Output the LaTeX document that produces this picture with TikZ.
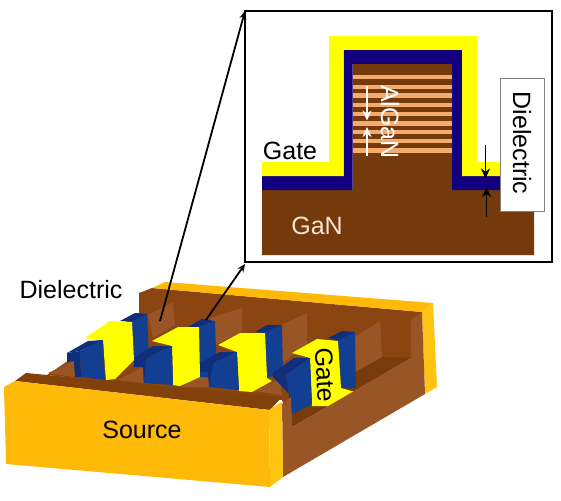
\documentclass[tikz,border=0pt]{standalone}
\usepackage{fontspec}
\setmainfont{Liberation Sans}
\definecolor{gan}{HTML}{753A0B}
\definecolor{navy2}{HTML}{13007F}
\definecolor{stripe}{HTML}{F4AC6C}
\definecolor{orange1}{HTML}{FFB908}
\definecolor{orange2}{HTML}{FFC312}
\definecolor{wall}{HTML}{8A4510}
\definecolor{floor2}{HTML}{783C0C}
\definecolor{fin}{HTML}{9A5526}
\definecolor{blue1}{HTML}{133F92}
\definecolor{blue2}{HTML}{0F2F7C}
\definecolor{cream}{HTML}{F6E6D0}
\definecolor{pureyellow}{HTML}{FFFF00}
\usetikzlibrary{arrows.meta}
\tikzset{
 lbl/.style={inner sep=0pt,font=\fontsize{25}{25}\selectfont},
 stripebar/.style={fill=stripe},
 tip/.style={-{Stealth[length=10pt,width=9pt]}},
 yel/.style={fill=pureyellow},
 bf/.style={fill=blue1},
 bt/.style={fill=blue2},
 fn/.style={fill=fin},
 ptr/.style={line width=1.8pt,-{Stealth[length=8pt,width=7pt]}}
}
\begin{document}
\begin{tikzpicture}[x=1pt,y=-1pt]
\useasboundingbox (0,0) rectangle (561,500);
% inset
\draw[line width=1.5pt,fill=white] (245,11) rectangle (552,262);
\fill[gan] (262,190) -- (352.5,190) -- (352.5,64) -- (452,64) -- (452,190) -- (534,190) -- (534,255) -- (262,255) -- cycle;
\foreach \y in {77.3,87.3,95.7,104.7,113.7,123.3,132,140.7,150.3}
  \fill[stripebar] (352.5,\y-2.2) rectangle (452,\y+2.2);
\fill[navy2] (262,176) -- (343.5,176) -- (343.5,50) -- (462,50) -- (462,176) -- (501,176) -- (501,190) -- (452,190) -- (452,64) -- (352.5,64) -- (352.5,190) -- (262,190) -- cycle;
\fill[pureyellow] (262,162) -- (329,162) -- (329,36) -- (477,36) -- (477,162) -- (501,162) -- (501,176) -- (462,176) -- (462,50) -- (343.5,50) -- (343.5,176) -- (262,176) -- cycle;
\coordinate (wa1) at (367,86.5); \coordinate (wa2) at (367,120.5);
\coordinate (wb1) at (367,156); \coordinate (wb2) at (367,127);
\draw[white,line width=1.5pt,tip] (wa1) -- (wa2);
\draw[white,line width=1.5pt,tip] (wb1) -- (wb2);
\node[lbl,text=white,rotate=-90] (algan) at (390,122) {AlGaN};
\node[lbl] (gatei) at (290,151) {Gate};
\node[lbl,text=cream] (gan) at (317,226) {GaN};
\node[draw=gray,fill=white,line width=.7pt,minimum width=44pt,minimum height=133pt,inner sep=0pt] (dbox) at (522.7,144.5) {};
\node[lbl,rotate=-90] (dieli) at (522,143) {Dielectric};
\coordinate (ka1) at (485.5,145); \coordinate (ka2) at (485.5,178.5);
\coordinate (kb1) at (486.5,217); \coordinate (kb2) at (486.5,187);
\draw[line width=1.5pt,tip] (ka1) -- (ka2);
\draw[line width=1.5pt,tip] (kb1) -- (kb2);
% device: back wall and floor
\fill[wall] (139,293) -- (152,288) -- (422,312) -- (411,358) -- (292,427) -- (282,400) -- (47,375) -- (139,313) -- cycle;
\fill[orange1] (152,288) -- (165,282) -- (433,303) -- (422,312) -- cycle;
\fill[orange2] (422,312) -- (433,303) -- (437,387) -- (425,394) -- cycle;
\fill[floor2] (292,415) -- (292,427) -- (411,358) -- (382,357) -- (355,372) -- cycle;
% fins
\fill[fn] (148,315) -- (173,302) -- (175,325) -- (153,338) -- cycle;
\fill[fn] (210,318) -- (242,308) -- (242,332) -- (215,345) -- cycle;
\fill[fn] (282,325) -- (307,313) -- (307,345) -- (282,363) -- cycle;
\fill[fn] (355,337) -- (380,321) -- (382,357) -- (355,372) -- cycle;
% stubs
\fill[fn] (48,373) -- (74,361) -- (75,377) -- cycle;
\fill[fn] (118,380) -- (143,367) -- (143,383) -- cycle;
\fill[fn] (180,387) -- (208,372) -- (209,387) -- cycle;
\fill[fn] (255,391) -- (280,379) -- (282,395) -- cycle;
% module 1
\fill[bt] (120,321) -- (135,313) -- (147,314) -- (132,322) -- cycle;
\fill[bf] (132,322) -- (147,314) -- (149,358) -- (133,362) -- cycle;
\fill[yel] (85,338) -- (110,321) -- (132,322) -- (134,360) -- (115,379) -- (106,380) -- (103,341) -- cycle;
\fill[bt] (67,353) -- (88,341) -- (103,340) -- (80,351) -- cycle;
\fill[bf] (80,351) -- (103,340) -- (105,380) -- (81,377) -- cycle;
\fill[bt] (67,353) -- (80,351) -- (81,377) -- (75,377) -- (74,361) -- (67,362) -- cycle;
% module 2
\fill[bt] (188,327) -- (202,319) -- (215,321) -- (199,327) -- cycle;
\fill[bf] (199,327) -- (215,321) -- (217,378) -- (200,377) -- cycle;
\fill[yel] (152,341) -- (178,327) -- (199,327) -- (200,377) -- (180,386) -- (173,385) -- (172,346) -- cycle;
\fill[bt] (134,358) -- (153,346) -- (172,346) -- (147,358) -- cycle;
\fill[bf] (147,358) -- (172,346) -- (173,385) -- (144,383) -- cycle;
\fill[bt] (134,358) -- (147,358) -- (144,383) -- (143,367) -- (134,367) -- cycle;
% module 3
\fill[bt] (255,332) -- (267,325) -- (282,325) -- (265,333) -- cycle;
\fill[bf] (265,333) -- (282,325) -- (283,372) -- (267,378) -- cycle;
\fill[yel] (218,345) -- (240,333) -- (265,333) -- (267,378) -- (272,381) -- (252,392) -- (239,391) -- (237,352) -- cycle;
\fill[bt] (200,363) -- (220,352) -- (237,352) -- (213,363) -- cycle;
\fill[bf] (213,363) -- (237,352) -- (239,390) -- (209,387) -- cycle;
\fill[bt] (200,363) -- (213,363) -- (209,387) -- (208,372) -- (200,372) -- cycle;
% module 4
\fill[bt] (328,338) -- (342,331) -- (355,332) -- (338,341) -- cycle;
\fill[bf] (338,341) -- (355,332) -- (356,388) -- (341,388) -- cycle;
\fill[yel] (292,353) -- (317,339) -- (338,341) -- (341,388) -- (355,392) -- (330,406) -- (312,406) -- (310,358) -- cycle;
\fill[bt] (273,373) -- (294,358) -- (310,358) -- (286,375) -- cycle;
\fill[bf] (286,375) -- (310,358) -- (312,404) -- (292,414) -- cycle;
\fill[bt] (273,373) -- (286,375) -- (292,414) -- (290,395) -- (273,377) -- cycle;
\node[lbl,rotate=-87] (gate3d) at (325,375) {Gate};
% right rail
\fill[fin] (282,404) -- (291,397) -- (292.3,427) -- (410.7,358) -- (410.7,320) -- (422,312) -- (425,394) -- (283,477) -- cycle;
% source
\fill[gan!90!orange] (15,381) -- (26,373) -- (47,375) -- (282,397) -- (270,410) -- cycle;
\fill[orange1] (4,387) -- (15,381) -- (269,410) -- (270,487) -- (6,464) -- cycle;
\fill[orange2] (269,410) -- (282,402) -- (283,477) -- (270,487) -- cycle;
\node[lbl] (src) at (142,430) {Source};
\node[lbl] (dielo) at (71,290) {Dielectric};
% pointers
\coordinate (p1) at (160,321); \coordinate (t1) at (245,11);
\coordinate (p2) at (206,320); \coordinate (t2) at (245,264);
\draw[ptr] (p1) -- (t1);
\draw[ptr] (p2) -- (t2);
\end{tikzpicture}
\end{document}
